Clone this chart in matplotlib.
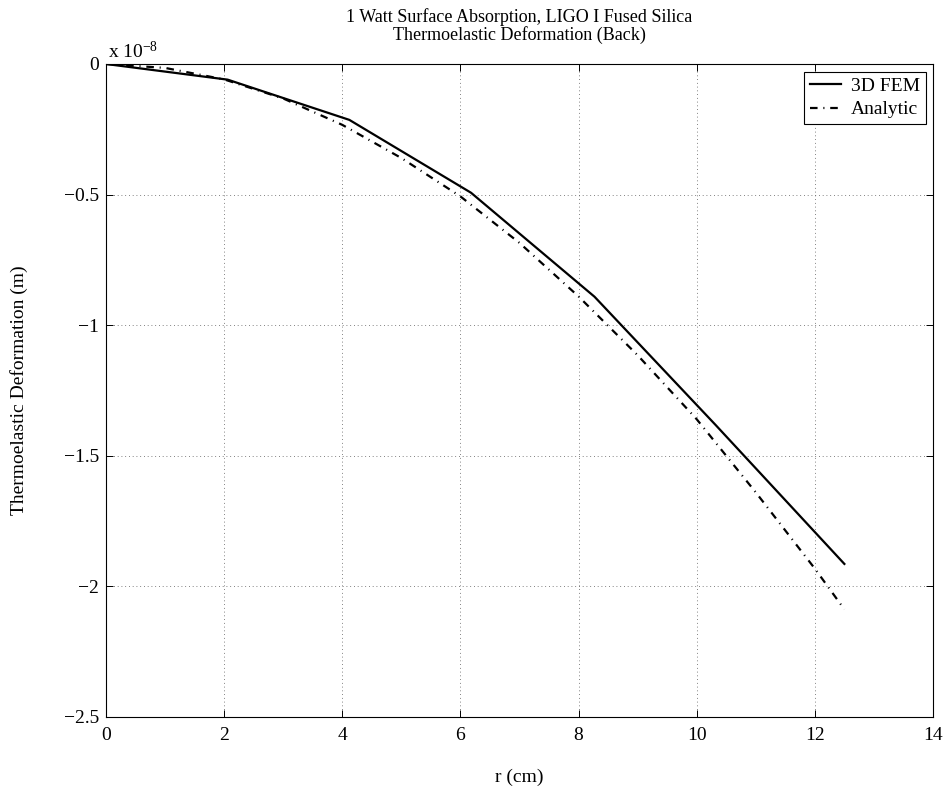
import matplotlib
matplotlib.use('Agg')
import matplotlib.pyplot as plt
from matplotlib.ticker import FixedLocator

plt.rcParams['font.family'] = ['Liberation Serif', 'DejaVu Serif']
plt.rcParams['font.size'] = 14
plt.rcParams['mathtext.fontset'] = 'custom'
plt.rcParams['mathtext.rm'] = 'Liberation Serif'
plt.rcParams['mathtext.default'] = 'rm'

# radius (cm) and deformation (units of 1e-8 m)
r_fem = [0, 2.06, 4.12, 6.18, 8.27, 10.32, 12.5]
fem = [0, -0.06, -0.214, -0.493, -0.891, -1.382, -1.914]

r_analytic = [0, 1, 2, 3, 4, 5, 6, 7, 8, 9, 10, 11, 12, 12.5]
analytic = [0, -0.015, -0.059, -0.132, -0.233, -0.36, -0.507, -0.685, -0.89, -1.115,
            -1.36, -1.64, -1.932, -2.088]

x_ticks = [0, 2, 4, 6, 8, 10, 12, 14]
y_ticks = [0, -0.5, -1, -1.5, -2, -2.5]
y_labels = ['0', '\u22120.5', '\u22121', '\u22121.5', '\u22122', '\u22122.5']

fig = plt.figure(figsize=(9.47, 7.86), dpi=100)
ax = fig.add_axes([0.1119, 0.0878, 0.8733, 0.8308])

ax.plot(r_fem, fem, color='k', lw=1.6, label='3D FEM')
ax.plot(r_analytic, analytic, color='k', lw=1.6, dashes=(3.4, 2.6, 0.5, 2.6),
        label='Analytic')

ax.set_xlim(0, 14)
ax.set_ylim(-2.5, 0)
ax.xaxis.set_major_locator(FixedLocator(x_ticks))
ax.yaxis.set_major_locator(FixedLocator(y_ticks))
ax.set_yticklabels(y_labels)
ax.tick_params(direction='in', length=5, width=0.7, top=True, right=True, pad=5)
ax.tick_params(axis='x', pad=7)
ax.grid(True, color='0.35', linestyle=(0, (1, 3.5)), linewidth=0.6)
for s in ax.spines.values():
    s.set_linewidth(0.8)

ax.text(0.003, 1.009, r'x 10$^{-8}$', transform=ax.transAxes, ha='left', va='baseline')

ax.set_xlabel('r (cm)', labelpad=18)
ax.set_ylabel('Thermoelastic Deformation (m)', labelpad=26)
ax.set_title('1 Watt Surface Absorption, LIGO I Fused Silica\nThermoelastic Deformation (Back)',
             pad=17, fontsize=13, linespacing=1.05)

leg = ax.legend(loc='upper right', bbox_to_anchor=(0.991, 0.988), borderaxespad=0,
                fancybox=False, edgecolor='k', framealpha=1, handlelength=1.6,
                handletextpad=0.5, labelspacing=0.28, borderpad=0.3)
leg.get_frame().set_linewidth(0.8)

fig.savefig('out.png', dpi=100)
